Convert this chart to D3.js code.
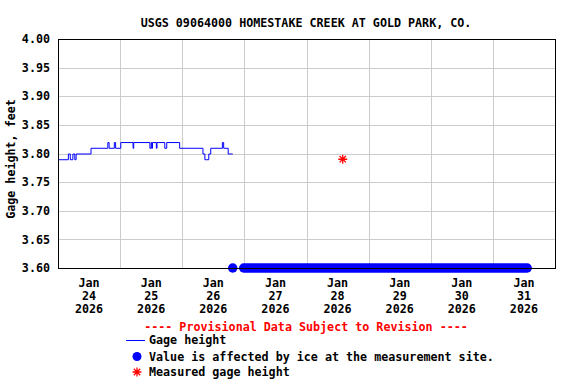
<!DOCTYPE html>
<html>
<head>
<meta charset="utf-8">
<script src="https://cdn.jsdelivr.net/npm/d3@7"></script>
<style>
  body { margin: 0; background: #fff; }
  text { font-family: "DejaVu Sans Mono", monospace; font-weight: bold; font-size: 11.7px; }
</style>
</head>
<body>
<svg id="viz" width="576" height="384"></svg>
<script>
// Data

var title = "USGS 09064000 HOMESTAKE CREEK AT GOLD PARK, CO.";

// gage height: times where the value changes, and the value from then on
var gage_times = [
  "2026-01-24T00:00", "2026-01-24T04:00", "2026-01-24T04:45", "2026-01-24T05:45",
  "2026-01-24T06:30", "2026-01-24T07:00", "2026-01-24T12:45", "2026-01-24T19:15",
  "2026-01-24T19:45", "2026-01-24T21:45", "2026-01-24T22:15", "2026-01-25T00:15",
  "2026-01-25T05:00", "2026-01-25T05:15", "2026-01-25T11:30", "2026-01-25T12:00",
  "2026-01-25T12:15", "2026-01-25T12:30", "2026-01-25T14:00", "2026-01-25T14:15",
  "2026-01-25T17:15", "2026-01-25T18:00", "2026-01-25T23:00", "2026-01-26T08:00",
  "2026-01-26T08:45", "2026-01-26T09:30", "2026-01-26T10:15", "2026-01-26T11:00",
  "2026-01-26T15:30", "2026-01-26T16:00", "2026-01-26T17:45", "2026-01-26T19:30"
];
var gage_values = [
  3.79, 3.80, 3.79, 3.80,
  3.79, 3.80, 3.81, 3.82,
  3.81, 3.82, 3.81, 3.82,
  3.81, 3.82, 3.81, 3.82,
  3.81, 3.82, 3.81, 3.82,
  3.81, 3.82, 3.81, 3.80,
  3.79, 3.79, 3.80, 3.81,
  3.82, 3.81, 3.80, 3.80
];

// ice-affected periods (plotted on the bottom of the axis)
var ice_start = ["2026-01-26T19:30", "2026-01-26T23:45"];
var ice_end   = ["2026-01-26T19:30", "2026-01-31T13:15"];
var ice_value = 3.60;

// measured gage height
var meas_times = ["2026-01-28T14:00"];
var meas_values = [3.79];

var y_ticks = [3.60, 3.65, 3.70, 3.75, 3.80, 3.85, 3.90, 3.95, 4.00];
var x_days = ["2026-01-24", "2026-01-25", "2026-01-26", "2026-01-27",
              "2026-01-28", "2026-01-29", "2026-01-30", "2026-01-31"];

var legend_labels = ["Gage height",
                     "Value is affected by ice at the measurement site.",
                     "Measured gage height"];

// Layout

var svg = d3.select("#viz");
var plot_l = 58, plot_r = 555, plot_t = 39, plot_b = 268;
var parse = d3.timeParse("%Y-%m-%dT%H:%M");
var parseDay = d3.timeParse("%Y-%m-%d");

var x = d3.scaleTime()
    .domain([parseDay("2026-01-24"), parseDay("2026-02-01")])
    .range([plot_l, plot_r]);
var y = d3.scaleLinear().domain([3.6, 4.0]).range([plot_b, plot_t]);

// Title
svg.append("text")
    .attr("x", 306).attr("y", 27)
    .attr("text-anchor", "middle")
    .text(title);

// Grid
var grid = svg.append("g").attr("stroke", "#cccccc").attr("stroke-width", 1);
grid.selectAll("line.h")
    .data(y_ticks.slice(1, -1))
    .enter().append("line")
    .attr("x1", plot_l).attr("x2", plot_r)
    .attr("y1", d => Math.round(y(d)) + 0.5).attr("y2", d => Math.round(y(d)) + 0.5);
grid.selectAll("line.v")
    .data(x_days.slice(1))
    .enter().append("line")
    .attr("x1", d => Math.round(x(parseDay(d))) + 0.5)
    .attr("x2", d => Math.round(x(parseDay(d))) + 0.5)
    .attr("y1", plot_t).attr("y2", plot_b);

// Y tick labels
svg.append("g").selectAll("text")
    .data(y_ticks)
    .enter().append("text")
    .attr("x", 50).attr("y", d => y(d))
    .attr("dy", "0.36em")
    .attr("text-anchor", "end")
    .text(d => d.toFixed(2));

// Y title
svg.append("text")
    .attr("transform", "translate(15,159) rotate(-90)")
    .attr("text-anchor", "middle")
    .text("Gage height, feet");

// X labels at noon of each day
var xl = svg.append("g").selectAll("g")
    .data(x_days)
    .enter().append("g")
    .attr("transform", d => "translate(" + x(d3.timeHour.offset(parseDay(d), 12)) + ",0)");
xl.append("text").attr("y", 287).attr("text-anchor", "middle").text(d => d3.timeFormat("%b")(parseDay(d)));
xl.append("text").attr("y", 300).attr("text-anchor", "middle").text(d => d3.timeFormat("%d")(parseDay(d)));
xl.append("text").attr("y", 313).attr("text-anchor", "middle").text(d => d3.timeFormat("%Y")(parseDay(d)));

// Gage height line
var gage = gage_times.map((t, i) => ({t: parse(t), v: gage_values[i]}));
var line = d3.line()
    .x(d => x(d.t))
    .y(d => y(d.v))
    .curve(d3.curveStepAfter);
svg.append("path")
    .datum(gage)
    .attr("fill", "none")
    .attr("stroke", "#0000ff")
    .attr("stroke-width", 1)
    .attr("transform", "translate(0,0.5)")
    .attr("d", line);

// Ice-affected values: runs of 15-minute dots drawn as rounded bands
var ice = ice_start.map((s, i) => ({s: parse(s), e: parse(ice_end[i])}));
svg.append("g").selectAll("path")
    .data(ice)
    .enter().append("path")
    .attr("d", d => "M" + x(d.s) + "," + y(ice_value) + "L" + x(d.e) + "," + y(ice_value))
    .attr("stroke", "#0000ff")
    .attr("stroke-width", 9.5)
    .attr("stroke-linecap", "round");

// Plot frame
svg.append("rect")
    .attr("x", plot_l + 0.5).attr("y", plot_t + 0.5)
    .attr("width", plot_r - plot_l).attr("height", plot_b - plot_t)
    .attr("fill", "none").attr("stroke", "#000").attr("stroke-width", 1);

// Measured gage height (asterisk)
function asterisk(cx, cy, r) {
  var d = "";
  for (var k = 0; k < 4; k++) {
    var a = k * Math.PI / 4, dx = r * Math.cos(a), dy = r * Math.sin(a);
    d += "M" + (cx - dx) + "," + (cy - dy) + "L" + (cx + dx) + "," + (cy + dy);
  }
  return d;
}
svg.append("g").selectAll("path")
    .data(meas_times.map((t, i) => ({t: parse(t), v: meas_values[i]})))
    .enter().append("path")
    .attr("d", d => asterisk(x(d.t), y(d.v), 4.5))
    .attr("stroke", "#ff0000")
    .attr("stroke-width", 1.3);

// Legend
svg.append("text")
    .attr("x", 306).attr("y", 331)
    .attr("text-anchor", "middle")
    .attr("fill", "#ff0000")
    .text("---- Provisional Data Subject to Revision ----");

var ly = [340, 356.5, 372];
svg.append("line")
    .attr("x1", 126).attr("x2", 145)
    .attr("y1", ly[0] + 0.5).attr("y2", ly[0] + 0.5)
    .attr("stroke", "#0000ff");
svg.append("circle")
    .attr("cx", 137).attr("cy", ly[1]).attr("r", 4.5)
    .attr("fill", "#0000ff");
svg.append("path")
    .attr("d", asterisk(137, ly[2], 4.5))
    .attr("stroke", "#ff0000")
    .attr("stroke-width", 1.3);

svg.append("g").selectAll("text")
    .data(legend_labels)
    .enter().append("text")
    .attr("x", 149).attr("y", (d, i) => ly[i])
    .attr("dy", "0.36em")
    .text(d => d);
</script>
</body>
</html>
